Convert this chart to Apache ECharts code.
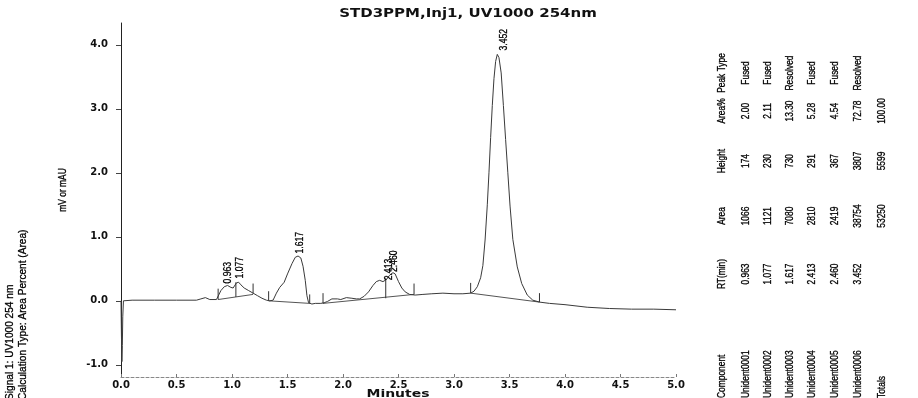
<!DOCTYPE html>
<html><head><meta charset="utf-8">
<script src="https://cdn.jsdelivr.net/npm/echarts@6/dist/echarts.min.js"></script>
<style>html,body{margin:0;padding:0;background:#fff}#c{width:918px;height:398px}</style>
</head><body><div id="c"></div>
<script>
// ---------- data ----------
const titleText = 'STD3PPM,Inj1, UV1000 254nm';
const xTickValues = [0, 0.5, 1, 1.5, 2, 2.5, 3, 3.5, 4, 4.5, 5];
const yTickValues = [-1, 0, 1, 2, 3, 4];
const signal = [
  [0.000, 0.00],[0.004, -0.55],[0.008, -0.95],[0.012, -0.70],[0.016, -0.25],[0.022, 0.00],
  [0.030, 0.02],[0.10, 0.01],[0.30, 0.01],[0.50, 0.01],[0.68, 0.01],[0.72, 0.03],[0.76, 0.05],
  [0.80, 0.02],[0.86, 0.02],[0.875, 0.04],[0.90, 0.16],[0.93, 0.22],[0.96, 0.24],[0.99, 0.21],
  [1.01, 0.20],[1.04, 0.28],[1.06, 0.29],[1.08, 0.25],[1.11, 0.20],[1.15, 0.16],[1.19, 0.12],
  [1.23, 0.08],[1.27, 0.04],[1.31, 0.01],[1.34, 0.00],[1.37, 0.01],[1.40, 0.12],[1.43, 0.21],
  [1.47, 0.29],[1.50, 0.42],[1.54, 0.58],[1.57, 0.68],[1.595, 0.70],[1.62, 0.67],[1.64, 0.54],
  [1.66, 0.32],[1.675, 0.08],[1.69, -0.03],[1.72, -0.05],[1.75, -0.04],[1.80, -0.04],[1.83, -0.03],
  [1.86, -0.01],[1.90, 0.03],[1.95, 0.03],[1.98, 0.02],[2.03, 0.05],[2.08, 0.04],[2.12, 0.03],
  [2.15, 0.03],[2.19, 0.07],[2.23, 0.14],[2.27, 0.24],[2.30, 0.30],[2.33, 0.32],[2.36, 0.30],
  [2.39, 0.33],[2.42, 0.40],[2.45, 0.44],[2.47, 0.42],[2.50, 0.30],[2.53, 0.20],[2.56, 0.14],
  [2.60, 0.10],[2.65, 0.09],[2.72, 0.10],[2.80, 0.11],[2.90, 0.12],[3.00, 0.11],[3.08, 0.11],
  [3.15, 0.12],[3.18, 0.15],[3.21, 0.22],[3.24, 0.36],[3.26, 0.55],[3.28, 0.95],[3.30, 1.50],
  [3.315, 2.00],[3.33, 2.55],[3.345, 3.05],[3.36, 3.47],[3.375, 3.74],[3.39, 3.85],[3.405, 3.80],
  [3.425, 3.56],[3.445, 3.05],[3.465, 2.52],[3.485, 2.00],[3.505, 1.48],[3.53, 0.96],[3.57, 0.53],
  [3.61, 0.27],[3.66, 0.09],[3.71, 0.01],[3.77, -0.02],[3.86, -0.04],[4.00, -0.06],[4.20, -0.10],
  [4.40, -0.12],[4.60, -0.13],[4.80, -0.13],[5.00, -0.14]
];
// integration baselines [t0, v0, t1, v1]
const baselines = [
  [0.875, 0.02, 1.19, 0.10],
  [1.33, 0.00, 1.70, -0.04],
  [1.82, -0.04, 2.64, 0.10],
  [3.15, 0.12, 3.77, -0.02]
];
// event tick marks [t, vLow, vHigh]
const eventTicks = [
  [0.875, 0.02, 0.19],[1.035, 0.06, 0.29],[1.19, 0.11, 0.27],[1.33, 0.00, 0.15],
  [1.70, -0.04, 0.10],[1.82, -0.04, 0.12],[2.385, 0.04, 0.35],[2.64, 0.10, 0.27],
  [3.15, 0.12, 0.28],[3.77, -0.02, 0.12]
];
const peakRT = [0.963, 1.077, 1.617, 2.413, 2.460, 3.452];
const peakLabelY = [0.27, 0.35, 0.74, 0.32, 0.45, 3.91];
const peakLabels = ['0.963', '1.077', '1.617', '2.413', '2.460', '3.452'];

const tableHeaders = ['Component', 'RT(min)', 'Area', 'Height', 'Area%', 'Peak Type'];
const components = ['Unident0001','Unident0002','Unident0003','Unident0004','Unident0005','Unident0006','Totals'];
const rtCol = ['0.963','1.077','1.617','2.413','2.460','3.452',''];
const areaCol = ['1066','1121','7080','2810','2419','38754','53250'];
const heightCol = ['174','230','730','291','367','3807','5599'];
const areaPctCol = ['2.00','2.11','13.30','5.28','4.54','72.78','100.00'];
const peakTypeCol = ['Fused','Fused','Resolved','Fused','Fused','Resolved',''];

// ---------- layout ----------
const SANS = "'Liberation Sans', Arial, sans-serif";
const WIDE = "'DejaVu Sans', 'Liberation Sans', sans-serif";
const colX = [722, 746, 768, 790, 812.5, 835, 858, 882];
const colY = [[398, 'left'], [274, 'center'], [216, 'center'], [161, 'center'], [111, 'center'], [73, 'center']];
const columns = [components, rtCol, areaCol, heightCol, areaPctCol, peakTypeCol];
const TABLE_FONT = '10.5px ' + SANS;
const NARROW_SCALE = 0.8;

function vtext(x, y, text, align, font, sx) {
  return {
    type: 'text', x: x, y: y, rotation: Math.PI / 2, scaleX: sx,
    style: { text: text, font: font, fill: '#000', stroke: '#000', lineWidth: 0.3, textAlign: align, textVerticalAlign: 'middle', align: align, verticalAlign: 'middle' }
  };
}

const graphics = [];
graphics.push({
  type: 'text', x: 468, y: 14, scaleX: 1.25,
  style: { text: titleText, font: 'bold 12px ' + WIDE, fill: '#111', textAlign: 'center', textVerticalAlign: 'middle', align: 'center', verticalAlign: 'middle' }
});
graphics.push({
  type: 'text', x: 398, y: 394, scaleX: 1.27,
  style: { text: 'Minutes', font: 'bold 11px ' + WIDE, fill: '#111', textAlign: 'center', textVerticalAlign: 'middle', align: 'center', verticalAlign: 'middle' }
});
graphics.push(vtext(63, 190, 'mV or mAU', 'center', TABLE_FONT, NARROW_SCALE));
graphics.push(vtext(10, 400, 'Signal 1: UV1000 254 nm', 'left', '11px ' + SANS, 0.92));
graphics.push(vtext(23, 400, 'Calculation Type: Area Percent (Area)', 'left', '11px ' + SANS, 0.92));
for (let c = 0; c < tableHeaders.length; c++) {
  const [yy, al] = colY[c];
  graphics.push(vtext(colX[0], yy, tableHeaders[c], al, TABLE_FONT, NARROW_SCALE));
  columns[c].forEach((s, r) => {
    if (s) graphics.push(vtext(colX[r + 1], yy, s, al, TABLE_FONT, NARROW_SCALE));
  });
}

const chart = echarts.init(document.getElementById('c'), null, { renderer: 'canvas' });
chart.setOption({
  animation: false,
  backgroundColor: '#fff',
  grid: { left: 121, right: 242, top: 23, bottom: 21, containLabel: false },
  xAxis: {
    type: 'value', min: 0, max: 5,
    axisLine: { show: true, onZero: false, lineStyle: { color: '#888', width: 1, type: [3, 2] } },
    axisTick: { show: true, inside: true, length: 3, lineStyle: { color: '#777' }, customValues: xTickValues },
    axisLabel: { customValues: xTickValues, formatter: v => v.toFixed(1), fontFamily: WIDE, fontWeight: 'bold', fontSize: 10, color: '#111', margin: 3 },
    splitLine: { show: false }
  },
  yAxis: {
    type: 'value', min: -1.19, max: 4.34,
    axisLine: { show: true, onZero: false, lineStyle: { color: '#222', width: 1 } },
    axisTick: { show: true, inside: false, length: 5, lineStyle: { color: '#444' }, customValues: yTickValues },
    axisLabel: { customValues: yTickValues, formatter: v => v.toFixed(1), fontFamily: WIDE, fontWeight: 'bold', fontSize: 10, color: '#111', margin: 13 },
    splitLine: { show: false }
  },
  graphic: graphics,
  series: [
    {
      type: 'line', data: signal, showSymbol: false, symbol: 'none',
      lineStyle: { color: '#3a3a3a', width: 1 }, z: 3
    },
    {
      type: 'custom', data: baselines,
      renderItem: (params, api) => {
        const a = api.coord([api.value(0), api.value(1)]);
        const b = api.coord([api.value(2), api.value(3)]);
        return { type: 'line', shape: { x1: a[0], y1: a[1], x2: b[0], y2: b[1] }, style: { stroke: '#555', lineWidth: 1 } };
      }, z: 2
    },
    {
      type: 'custom', data: eventTicks,
      renderItem: (params, api) => {
        const a = api.coord([api.value(0), api.value(1)]);
        const b = api.coord([api.value(0), api.value(2)]);
        return { type: 'line', shape: { x1: a[0], y1: a[1], x2: b[0], y2: b[1] }, style: { stroke: '#333', lineWidth: 1 } };
      }, z: 2
    },
    {
      type: 'custom', data: peakRT.map((t, i) => [t, peakLabelY[i]]),
      renderItem: (params, api) => {
        const p = api.coord([api.value(0), api.value(1)]);
        return {
          type: 'text', x: p[0], y: p[1], rotation: Math.PI / 2, scaleX: 0.82,
          style: { text: peakLabels[params.dataIndex], font: '10.5px ' + SANS, fill: '#000', stroke: '#000', lineWidth: 0.3, textAlign: 'left', textVerticalAlign: 'middle', align: 'left', verticalAlign: 'middle' }
        };
      }, z: 4
    }
  ]
});
</script></body></html>
